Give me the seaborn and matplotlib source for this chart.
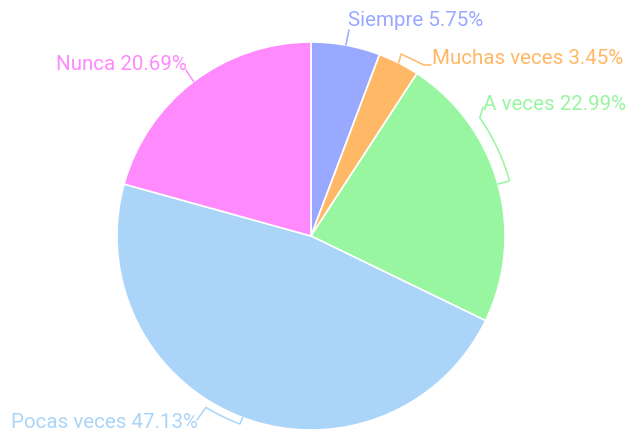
import numpy as np
import matplotlib
matplotlib.use("Agg")
import matplotlib.pyplot as plt
import seaborn as sns

categories = ["Siempre", "Muchas veces", "A veces", "Pocas veces", "Nunca"]
counts = [5, 3, 20, 41, 18]
percent_labels = ["5.75%", "3.45%", "22.99%", "47.13%", "20.69%"]
colors = ["#99a9ff", "#ffb866", "#98f5a0", "#aad5f9", "#ff8afd"]

sns.set_theme(style="white")
plt.rcParams["font.family"] = ["Roboto", "DejaVu Sans"]

W, H = 628, 432
fig = plt.figure(figsize=(W / 100, H / 100), dpi=100)
ax = fig.add_axes([0, 0, 1, 1])
ax.set_xlim(0, W)
ax.set_ylim(H, 0)
ax.set_aspect("equal")
ax.axis("off")

cx, cy, R = 311, 236, 194
palette = sns.color_palette(colors)

wedges, _ = ax.pie(counts, colors=palette, startangle=-90, counterclock=True,
                   center=(cx, cy), radius=R,
                   wedgeprops=dict(edgecolor="white", linewidth=1.2))
ax.set_xlim(0, W)
ax.set_ylim(H, 0)

total = sum(counts)
fr = np.cumsum([0] + counts) / total
mids = [90 - 360 * (fr[i] + fr[i + 1]) / 2 for i in range(len(counts))]


def pt(ang, r):
    a = np.deg2rad(ang)
    return cx + r * np.cos(a), cy - r * np.sin(a)

layouts = [
    dict(path=[("p", 0, 0), ("a", 349, 30)], text=(348, 21), ha="left"),
    dict(path=[("p", 0, 0), ("a", 401, 54), ("a", 424, 65), ("a", 431, 65)], text=(432, 59), ha="left"),
    dict(path=[("p", 0, 0), ("p", 0, 206), ("arc", 35, 206), ("a", 483, 107)], text=(483, 105), ha="left"),
    dict(path=[("p", 0, 0), ("p", 0, 201), ("arc", -121.5, 201), ("a", 197, 420)], text=(198, 422), ha="right"),
    dict(path=[("p", 0, 0), ("a", 186, 70)], text=(187, 64), ha="right"),
]

for i, (cat, pl, col, lay) in enumerate(zip(categories, percent_labels, palette, layouts)):
    m = mids[i]
    xs, ys = [], []
    cur_ang, cur_r = m, R
    for kind, a, b in lay["path"]:
        if kind == "p":
            r = R if b == 0 else b
            cur_ang, cur_r = m, r
            x, y = pt(m, r)
            xs.append(x); ys.append(y)
        elif kind == "arc":
            angs = np.linspace(cur_ang, a, 30)
            for g in angs:
                x, y = pt(g, b)
                xs.append(x); ys.append(y)
            cur_ang, cur_r = a, b
        else:
            xs.append(a); ys.append(b)
    ax.plot(xs, ys, color=col, lw=1.1, solid_capstyle="round", zorder=3)
    ax.text(lay["text"][0], lay["text"][1], f"{cat} {pl}", color=col, fontsize=14.8,
            ha=lay["ha"], va="center")

fig.savefig("out.png", dpi=100)
